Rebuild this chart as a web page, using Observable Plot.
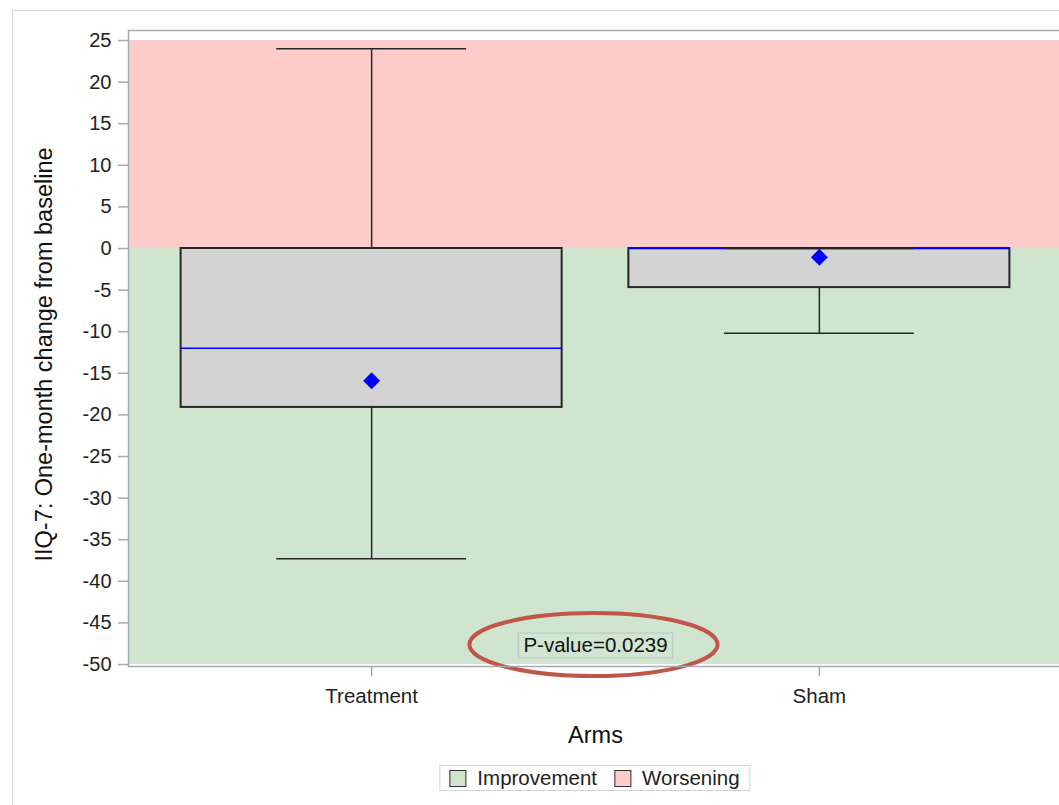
<!DOCTYPE html>
<html>
<head>
<meta charset="utf-8">
<script src="https://cdn.jsdelivr.net/npm/d3@7"></script>
<script src="https://cdn.jsdelivr.net/npm/@observablehq/plot@0.6"></script>
<style>
html, body { margin: 0; padding: 0; background: #fff; overflow: hidden; }
#wrap { position: relative; width: 1059px; height: 805px; overflow: hidden; font-family: "Liberation Sans", Arial, sans-serif; color: #222; }
#border { position: absolute; left: 12px; top: 10px; width: 1200px; height: 1000px; border: 1.5px solid #d6d6d6; box-sizing: border-box; }
#chart { position: absolute; left: 0; top: 0; width: 1100px; height: 755px; }
#chart svg { max-width: none !important; width: 1100px !important; height: 755px !important; }
#legend { position: absolute; top: 765px; left: 595px; transform: translateX(-50%); border: 1.5px solid #d4d4d4; height: 26px; box-sizing: border-box; display: flex; align-items: center; padding: 0 10px 0 9px; font-size: 20.5px; white-space: nowrap; }
#legend .item { display: flex; align-items: center; }
#legend .item + .item { margin-left: 17px; }
#legend .sw { width: 15px; height: 15px; border: 1.5px solid #333; margin-right: 11px; }
</style>
</head>
<body>
<div id="wrap">
  <div id="border"></div>
  <div id="chart"></div>
  <div id="legend"></div>
</div>
<script>
// ---- data ----
const arms = ["Treatment", "Sham"];
const armPos = [1, 2];
const whiskerLow = [-37.3, -10.2];
const q1 = [-19.1, -4.7];
const median = [-12, 0];
const q3 = [0, 0];
const whiskerHigh = [24, 0];
const mean = [-15.9, -1.05];

const bandLabels = ["Improvement", "Worsening"];
const bandLow = [-50, 0];
const bandHigh = [0, 25];
const bandColors = ["#cfe5cf", "#ffcccc"];

const yTicks = [25, 20, 15, 10, 5, 0, -5, -10, -15, -20, -25, -30, -35, -40, -45, -50];
const yLabel = "IIQ-7: One-month change from baseline";
const xLabel = "Arms";
const pValueText = "P-value=0.0239";

// ---- tables ----
const boxes = arms.map((a, i) => ({
  arm: a, pos: armPos[i], lo: whiskerLow[i], q1: q1[i], med: median[i],
  q3: q3[i], hi: whiskerHigh[i], mean: mean[i]
}));
const bands = bandLabels.map((l, i) => ({label: l, y1: bandLow[i], y2: bandHigh[i], color: bandColors[i]}));

const boxHalf = 0.4255;
const capHalf = 0.212;
const axisGray = "#a3abb0";
const ink = "#262626";

const plot = Plot.plot({
  width: 1100,
  height: 755,
  marginLeft: 128,
  marginRight: 38,
  marginTop: 30,
  marginBottom: 89,
  insetTop: 10,
  insetBottom: 2,
  style: {fontFamily: "'Liberation Sans', Arial, sans-serif", color: "#222", background: "transparent"},
  x: {type: "linear", domain: [0.457, 2.543]},
  y: {domain: [-50, 25]},
  marks: [
    Plot.rect(bands, {y1: "y1", y2: "y2", fill: "color"}),
    Plot.rect(boxes, {x1: d => d.pos - boxHalf, x2: d => d.pos + boxHalf, y1: "q1", y2: "q3", fill: "#d3d3d3", stroke: ink, strokeWidth: 2}),
    Plot.ruleY(boxes, {y: "med", x1: d => d.pos - boxHalf, x2: d => d.pos + boxHalf, stroke: "#0000ff", strokeWidth: 1.5}),
    Plot.ruleX(boxes, {x: "pos", y1: "q3", y2: "hi", stroke: ink, strokeWidth: 1.5}),
    Plot.ruleX(boxes, {x: "pos", y1: "lo", y2: "q1", stroke: ink, strokeWidth: 1.5}),
    Plot.ruleY(boxes, {y: "hi", x1: d => d.pos - capHalf, x2: d => d.pos + capHalf, stroke: ink, strokeWidth: 1.5}),
    Plot.ruleY(boxes, {y: "lo", x1: d => d.pos - capHalf, x2: d => d.pos + capHalf, stroke: ink, strokeWidth: 1.5}),
    Plot.dot(boxes, {x: "pos", y: "mean", symbol: "diamond2", r: 7.6, fill: "#0000ff", stroke: "none"}),
    Plot.text([pValueText], {text: d => d, frameAnchor: "bottom", lineAnchor: "middle", textAnchor: "middle", dy: -21, fontSize: 20.5, fill: "#111", className: "pval"}),
    Plot.frame({stroke: axisGray, strokeWidth: 1.5}),
    Plot.axisY({ticks: yTicks, tickFormat: d => String(d), tickSize: 10, tickPadding: 7, fontSize: 20, stroke: axisGray, strokeWidth: 1.5, label: null}),
    Plot.axisX({ticks: armPos, tickFormat: d => arms[armPos.indexOf(d)], tickSize: 10, tickPadding: 12, fontSize: 20.5, stroke: axisGray, strokeWidth: 1.5, label: null}),
    Plot.text([yLabel], {text: d => d, frameAnchor: "left", textAnchor: "middle", lineAnchor: "middle", rotate: -90, dx: -84, dy: 6, fontSize: 23.5, fill: "#111"}),
    Plot.text([xLabel], {text: d => d, frameAnchor: "bottom", textAnchor: "middle", lineAnchor: "middle", dy: 69, fontSize: 23.5, fill: "#111"})
  ]
});
document.getElementById("chart").appendChild(plot);

// P-value label box and highlighting ellipse, sized from the rendered text
const svgNS = "http://www.w3.org/2000/svg";
const t = plot.querySelector("g.pval text");
if (t) {
  const bb = t.getBBox();
  const g = t.parentNode;
  const tr = t.getAttribute("transform") || "";
  const r = document.createElementNS(svgNS, "rect");
  r.setAttribute("x", bb.x - 5); r.setAttribute("y", bb.y);
  r.setAttribute("width", bb.width + 10); r.setAttribute("height", bb.height + 2);
  r.setAttribute("fill", "#d2e4d2"); r.setAttribute("stroke", "#c3cec3"); r.setAttribute("stroke-width", 1.5);
  r.setAttribute("transform", tr);
  g.insertBefore(r, t);
  const e = document.createElementNS(svgNS, "ellipse");
  e.setAttribute("cx", bb.x + bb.width / 2 - 2); e.setAttribute("cy", bb.y + bb.height / 2);
  e.setAttribute("rx", bb.width / 2 + 52); e.setAttribute("ry", bb.height / 2 + 20);
  e.setAttribute("fill", "none"); e.setAttribute("stroke", "#c0564a"); e.setAttribute("stroke-width", 4);
  e.setAttribute("transform", tr);
  g.appendChild(e);
}

// legend
const legend = document.getElementById("legend");
bands.forEach(b => {
  const it = document.createElement("div"); it.className = "item";
  const sw = document.createElement("div"); sw.className = "sw"; sw.style.background = b.color;
  const tx = document.createElement("span"); tx.textContent = b.label;
  it.appendChild(sw); it.appendChild(tx); legend.appendChild(it);
});
</script>
</body>
</html>
